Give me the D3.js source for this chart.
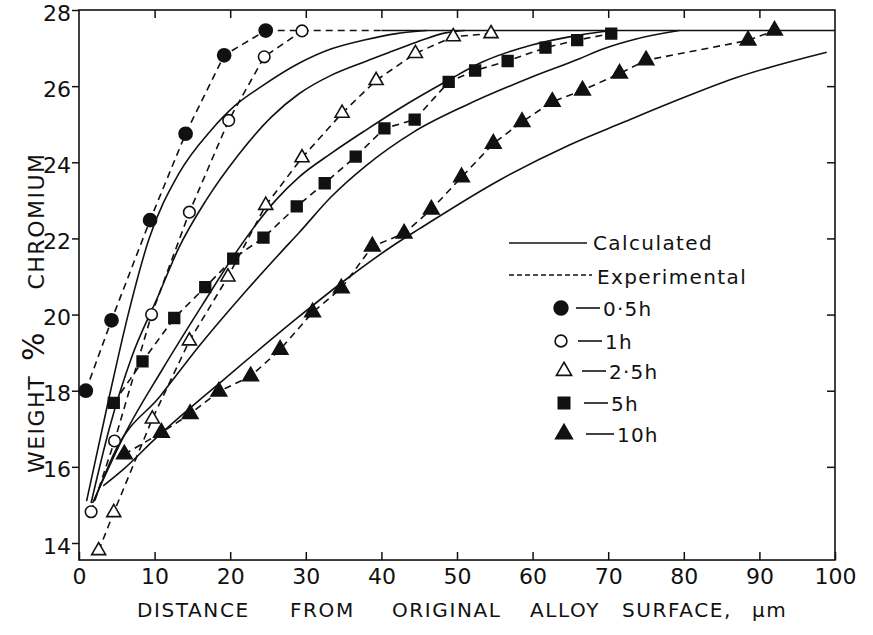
<!DOCTYPE html>
<html>
<head>
<meta charset="utf-8">
<script src="https://cdn.jsdelivr.net/npm/d3@7"></script>
<style>
  body { margin: 0; background: #fff; }
  svg { display: block; }
  text { font-family: "DejaVu Sans", sans-serif; fill: #111; }
</style>
</head>
<body>
<svg id="chart" width="873" height="635"></svg>
<script>
// values: [distance um, weight % Cr]
const xTicks = [0, 10, 20, 30, 40, 50, 60, 70, 80, 90, 100];
const yTicks = [14, 16, 18, 20, 22, 24, 26, 28];
const timeLabels = ["0·5h", "1h", "2·5h", "5h", "10h"];

// experimental points
const exp05 = [[0.9,18.0],[4.3,19.85],[9.4,22.48],[14.1,24.75],[19.2,26.81],[24.7,27.46]];
const exp1  = [[1.6,14.82],[4.7,16.68],[9.6,20.0],[14.6,22.69],[19.8,25.1],[24.5,26.77],[29.5,27.45]];
const exp25 = [[2.6,13.8],[4.6,14.8],[9.7,17.26],[14.6,19.31],[19.7,20.99],[24.7,22.87],[29.5,24.12],
               [34.8,25.29],[39.3,26.15],[44.5,26.86],[49.5,27.3],[54.5,27.38]];
const exp5  = [[4.6,17.68],[8.4,18.77],[12.6,19.91],[16.7,20.72],[20.4,21.47],[24.4,22.02],[28.8,22.84],
               [32.5,23.45],[36.6,24.15],[40.4,24.89],[44.4,25.12],[48.9,26.11],[52.4,26.41],
               [56.7,26.66],[61.7,27.01],[65.9,27.21],[70.4,27.38]];
const exp10 = [[6.0,16.33],[10.9,16.9],[14.7,17.39],[18.5,17.98],[22.7,18.38],[26.6,19.08],[30.9,20.06],
               [34.7,20.69],[38.8,21.79],[43.0,22.13],[46.6,22.76],[50.6,23.61],[54.8,24.49],
               [58.6,25.06],[62.6,25.59],[66.6,25.89],[71.5,26.33],[75.0,26.68],[88.5,27.2],[92.0,27.46]];
// dashed run of the short-time data along the 27.5 limit
const expTail = [[24.7,27.46],[40,27.46]];

// calculated profiles
const calc05 = [[1.0,15.1],[3.9,17.75],[6.5,20.0],[9.2,21.95],[13.2,23.7],[17.5,24.85],[20.7,25.5],
                [24.2,26.0],[29.1,26.6],[33.4,26.98],[37.9,27.22],[42,27.38],[46,27.46]];
const calc1  = [[1.6,15.05],[4.0,17.0],[7.0,18.9],[10.5,20.5],[13.2,21.75],[16.8,23.0],[21.1,24.2],
                [25.5,25.2],[29.1,25.8],[33.4,26.29],[37.9,26.65],[42.3,26.98],[45.5,27.22],[48.5,27.4],[51,27.46]];
const calc25 = [[1.8,15.05],[6.3,16.95],[11,18.55],[16.4,20.28],[21,21.7],[26,23.0],[29.1,23.61],
                [33.4,24.24],[37.9,24.84],[42.3,25.4],[48.9,26.16],[53.2,26.62],[59.9,27.08],
                [66.2,27.34],[70.5,27.46]];
const calc5  = [[2.0,15.1],[5.0,16.5],[10.7,17.85],[16,19.2],[22,20.6],[27.7,21.85],[29.1,22.15],
                [33.4,23.1],[37.9,23.9],[44.3,24.8],[51.2,25.5],[59.9,26.24],[66.2,26.72],
                [69.2,26.97],[73.7,27.24],[79.4,27.46]];
const calc10 = [[3.2,15.5],[5.9,15.94],[10,16.72],[19.5,18.35],[29,19.93],[35.7,20.98],[41.9,21.86],
                [45,22.25],[55.6,23.53],[64.8,24.45],[72,25.05],[78.1,25.55],[86.9,26.22],[98.9,26.89]];
const plateau = [[40,27.46],[100,27.46]];

const expSeries = [exp05, exp1, exp25, exp5, exp10];
const calcSeries = [calc05, calc1, calc25, calc5, calc10];

const svg = d3.select('#chart');
const x = d3.scaleLinear().domain([0, 100]).range([79, 835]);
const y = d3.scaleLinear().domain([14, 28]).range([543, 10]);
const yBottom = 13.553;
const ink = '#111';

// marker shapes for each time
const markers = [
  {type: d3.symbolCircle, size: 135, fill: ink},
  {type: d3.symbolCircle, size: 105, fill: '#fff'},
  {type: d3.symbolTriangle, size: 85, fill: '#fff'},
  {type: d3.symbolSquare, size: 115, fill: ink},
  {type: d3.symbolTriangle, size: 105, fill: ink}
];

// frame
svg.append('rect')
  .attr('x', x(0)).attr('y', y(28))
  .attr('width', x(100) - x(0)).attr('height', y(yBottom) - y(28))
  .attr('fill', 'none').attr('stroke', ink).attr('stroke-width', 1.6);

// axes (ticks inside except left)
const axBottom = svg.append('g').attr('transform', `translate(0,${y(yBottom)})`)
  .call(d3.axisBottom(x).tickValues(xTicks).tickSize(-8).tickPadding(8).tickFormat(d3.format('d')));
const axTop = svg.append('g').attr('transform', `translate(0,${y(28)})`)
  .call(d3.axisTop(x).tickValues(xTicks.slice(1, -1)).tickSize(-8).tickFormat(''));
const axLeft = svg.append('g').attr('transform', `translate(${x(0)},0)`)
  .call(d3.axisLeft(y).tickValues(yTicks).tickSize(7).tickPadding(1));
const axRight = svg.append('g').attr('transform', `translate(${x(100)},0)`)
  .call(d3.axisRight(y).tickValues(yTicks.slice(1, -1)).tickSize(-8).tickFormat(''));

[axBottom, axTop, axLeft, axRight].forEach(g => {
  g.select('.domain').remove();
  g.selectAll('line').attr('stroke', ink).attr('stroke-width', 1.5);
  g.selectAll('text').attr('font-size', 22).attr('fill', ink)
    .style('font-family', '"DejaVu Sans", sans-serif');
});
axLeft.selectAll('text').attr('dy', '0.46em');

// axis titles
const xWords = [['DISTANCE', 137], ['FROM', 290], ['ORIGINAL', 392], ['ALLOY', 530], ['SURFACE,', 622], ['\u03bcm', 752]];
svg.selectAll('.xw').data(xWords).enter().append('text')
  .attr('x', d => d[1]).attr('y', 617)
  .attr('font-size', 20).attr('letter-spacing', 1.6)
  .text(d => d[0]);

const yWords = [['WEIGHT', 424, 22], ['%', 346, 30], ['CHROMIUM', 221, 22]];
svg.selectAll('.yw').data(yWords).enter().append('text')
  .attr('transform', d => `translate(44,${d[1]}) rotate(-90)`)
  .attr('text-anchor', 'middle')
  .attr('font-size', d => d[2]).attr('letter-spacing', 1.5)
  .text(d => d[0]);

// lines
const line = d3.line().x(d => x(d[0])).y(d => y(d[1]));
const smooth = d3.line().x(d => x(d[0])).y(d => y(d[1])).curve(d3.curveMonotoneX);

svg.append('g').selectAll('path').data(calcSeries.concat([plateau])).enter().append('path')
  .attr('d', smooth).attr('fill', 'none').attr('stroke', ink).attr('stroke-width', 1.6);

svg.append('g').selectAll('path').data(expSeries.concat([expTail])).enter().append('path')
  .attr('d', line).attr('fill', 'none').attr('stroke', ink).attr('stroke-width', 1.6)
  .attr('stroke-dasharray', '7,5');

// markers
expSeries.forEach((pts, i) => {
  const m = markers[i];
  svg.append('g').selectAll('path').data(pts).enter().append('path')
    .attr('transform', d => `translate(${x(d[0])},${y(d[1])})`)
    .attr('d', d3.symbol().type(m.type).size(m.size))
    .attr('fill', m.fill).attr('stroke', ink).attr('stroke-width', 1.6);
});

// legend
const lg = svg.append('g');
lg.append('line').attr('x1', 509).attr('x2', 587).attr('y1', 243).attr('y2', 243)
  .attr('stroke', ink).attr('stroke-width', 1.6);
lg.append('text').attr('x', 593).attr('y', 250).attr('font-size', 20).attr('letter-spacing', 1.4).text('Calculated');
lg.append('line').attr('x1', 509).attr('x2', 592).attr('y1', 275).attr('y2', 275)
  .attr('stroke', ink).attr('stroke-width', 1.6).attr('stroke-dasharray', '5,3');
lg.append('text').attr('x', 597).attr('y', 284).attr('font-size', 20).attr('letter-spacing', 1.4).text('Experimental');

const legendRows = [308, 341, 371, 403, 434];
const legendDash = [[576, 600], [578, 602], [582, 606], [584, 608], [586, 614]];
timeLabels.forEach((t, i) => {
  const m = markers[i];
  const cy = legendRows[i];
  lg.append('path').attr('transform', `translate(${i < 2 ? 561 : 564},${cy})`)
    .attr('d', d3.symbol().type(m.type).size(i === 1 ? 110 : m.size + 15))
    .attr('fill', m.fill).attr('stroke', ink).attr('stroke-width', 1.6);
  lg.append('line').attr('x1', legendDash[i][0]).attr('x2', legendDash[i][1])
    .attr('y1', cy).attr('y2', cy).attr('stroke', ink).attr('stroke-width', 1.6);
  lg.append('text').attr('x', legendDash[i][1] + 3).attr('y', cy + 8)
    .attr('font-size', 20).attr('letter-spacing', 1.2).text(t);
});
</script>
</body>
</html>
